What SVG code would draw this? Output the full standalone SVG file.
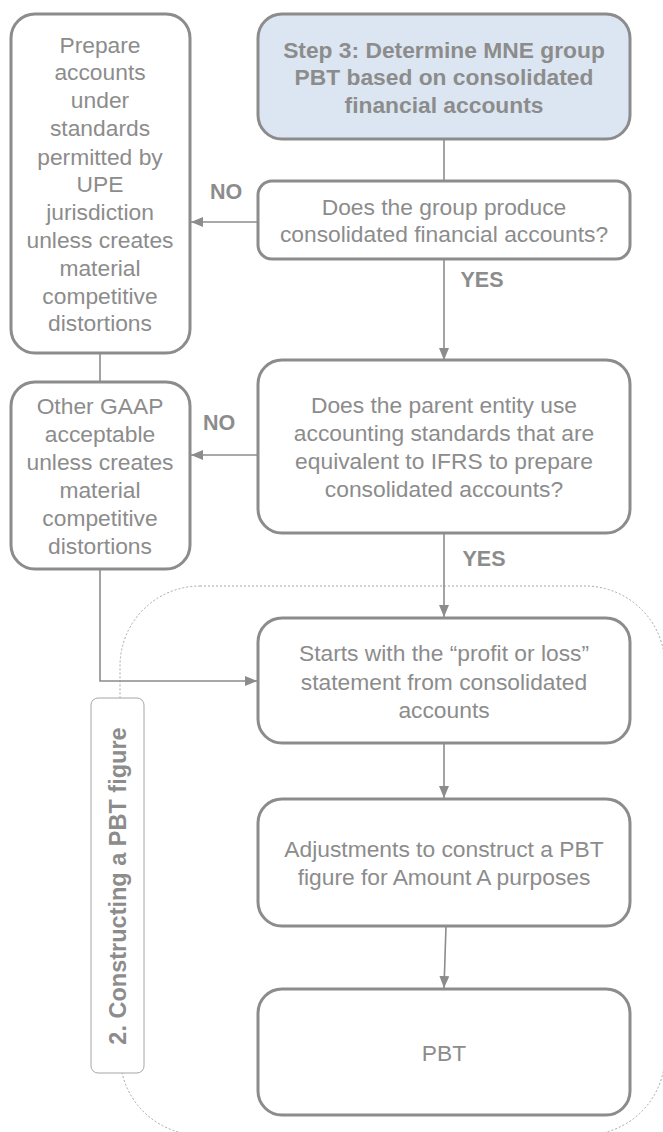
<svg xmlns="http://www.w3.org/2000/svg" width="663" height="1132" viewBox="0 0 663 1132">
<style>
.box{fill:#ffffff;stroke:#8c8c8c;stroke-width:3}
.title{fill:#dce6f2;stroke:#8c8c8c;stroke-width:3}
.t{font-family:"Liberation Sans",Arial,sans-serif;font-size:22.8px;fill:#8c8c8c;text-anchor:middle}
.b{font-family:"Liberation Sans",Arial,sans-serif;font-weight:bold;fill:#8c8c8c;text-anchor:middle}
.c{fill:none;stroke:#8c8c8c;stroke-width:1.6}
</style>
<defs>
<marker id="ah" markerWidth="12" markerHeight="10" refX="12" refY="5" orient="auto" markerUnits="userSpaceOnUse">
<path d="M0,0 L12,5 L0,10 Z" fill="#8c8c8c"/>
</marker>
</defs>
<g id="region">
<rect x="120" y="586" width="545" height="549" rx="80" ry="80" fill="none" stroke="#a6a6a6" stroke-width="1" stroke-dasharray="2,2"/>
</g>
<g id="connectors">
<path class="c" d="M444,139 V181"/>
<path class="c" d="M444,259 V360" marker-end="url(#ah)"/>
<path class="c" d="M258,222 H191" marker-end="url(#ah)"/>
<path class="c" d="M258,455 H191" marker-end="url(#ah)"/>
<path class="c" d="M100,353 V382"/>
<path class="c" d="M444,533 V617" marker-end="url(#ah)"/>
<path class="c" d="M100,569 V681 H257" marker-end="url(#ah)"/>
<path class="c" d="M444,743 V798" marker-end="url(#ah)"/>
<path class="c" d="M446,926 L444,988" marker-end="url(#ah)"/>
<text class="b" x="226" y="199" font-size="21.5">NO</text>
<text class="b" x="482" y="287" font-size="21.5">YES</text>
<text class="b" x="219" y="430" font-size="21.5">NO</text>
<text class="b" x="484" y="566" font-size="21.5">YES</text>
</g>
<g id="step3">
<rect class="title" x="258" y="14" width="372" height="125" rx="24"/>
<text class="b" font-size="22.8" x="444" y="58">Step 3: Determine MNE group</text>
<text class="b" font-size="22.8" x="444" y="85">PBT based on consolidated</text>
<text class="b" font-size="22.8" x="444" y="113">financial accounts</text>
</g>
<g id="prepare">
<rect class="box" x="11" y="14" width="179" height="339" rx="24"/>
<text class="t" x="100" y="53">Prepare</text>
<text class="t" x="100" y="80">accounts</text>
<text class="t" x="100" y="108">under</text>
<text class="t" x="100" y="136">standards</text>
<text class="t" x="100" y="165">permitted by</text>
<text class="t" x="100" y="192">UPE</text>
<text class="t" x="100" y="220">jurisdiction</text>
<text class="t" x="100" y="248">unless creates</text>
<text class="t" x="100" y="276">material</text>
<text class="t" x="100" y="304">competitive</text>
<text class="t" x="100" y="331">distortions</text>
</g>
<g id="q1">
<rect class="box" x="258" y="181" width="372" height="78" rx="14"/>
<text class="t" x="444" y="215">Does the group produce</text>
<text class="t" x="444" y="242">consolidated financial accounts?</text>
</g>
<g id="gaap">
<rect class="box" x="11" y="382" width="179" height="187" rx="24"/>
<text class="t" x="100" y="414">Other GAAP</text>
<text class="t" x="100" y="442">acceptable</text>
<text class="t" x="100" y="470">unless creates</text>
<text class="t" x="100" y="498">material</text>
<text class="t" x="100" y="526">competitive</text>
<text class="t" x="100" y="554">distortions</text>
</g>
<g id="q2">
<rect class="box" x="258" y="360" width="372" height="173" rx="24"/>
<text class="t" x="444" y="413">Does the parent entity use</text>
<text class="t" x="444" y="441">accounting standards that are</text>
<text class="t" x="444" y="469">equivalent to IFRS to prepare</text>
<text class="t" x="444" y="497">consolidated accounts?</text>
</g>
<g id="label">
<rect x="91" y="698" width="53" height="375" rx="7" fill="#ffffff" stroke="#a6a6a6" stroke-width="1"/>
<text class="b" font-size="23.5" transform="translate(126,886) rotate(-90)" x="0" y="0">2. Constructing a PBT figure</text>
</g>
<g id="start">
<rect class="box" x="258" y="618" width="372" height="125" rx="24"/>
<text class="t" x="444" y="661">Starts with the “profit or loss”</text>
<text class="t" x="444" y="690">statement from consolidated</text>
<text class="t" x="444" y="718">accounts</text>
</g>
<g id="adjust">
<rect class="box" x="258" y="799" width="372" height="127" rx="24"/>
<text class="t" x="444" y="857">Adjustments to construct a PBT</text>
<text class="t" x="444" y="885">figure for Amount A purposes</text>
</g>
<g id="pbt">
<rect class="box" x="258" y="989" width="372" height="126" rx="24"/>
<text class="t" x="444" y="1061">PBT</text>
</g>
</svg>
